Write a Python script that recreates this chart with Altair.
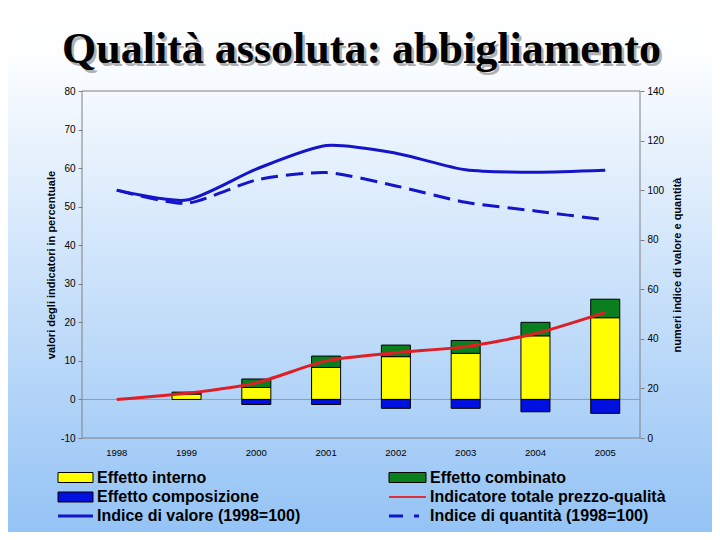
import altair as alt
import pandas as pd

# ---- data ----
years = ["1998", "1999", "2000", "2001", "2002", "2003", "2004", "2005"]
effetto_interno = [0, 1.4, 3.1, 8.3, 11.1, 11.95, 16.5, 21.2]
effetto_combinato = [0, 0.5, 2.2, 2.95, 3.0, 3.35, 3.5, 4.8]
effetto_composizione = [0, 0, -1.3, -1.3, -2.3, -2.3, -3.2, -3.6]
indicatore_totale = [0, 1.6, 4.3, 10.0, 12.1, 13.7, 17.1, 22.6]
indice_valore = [100, 96, 108.5, 118, 114.9, 108.2, 107.2, 108]
indice_quantita = [100, 94.7, 104.1, 107.1, 101.7, 95.1, 91.6, 88]

left_ticks = [-10, 0, 10, 20, 30, 40, 50, 60, 70, 80]
right_ticks = [0, 20, 40, 60, 80, 100, 120, 140]

title_text = "Qualità assoluta: abbigliamento"
left_title = "valori degli indicatori in percentuale"
right_title = "numeri indice di valore e quantità"

series_names = ["Effetto interno", "Effetto combinato", "Effetto composizione"]
series_colors = ["#ffff00", "#0a7f1e", "#0010e0"]
RED = "#e01e25"
BLUE = "#1414c8"
FONT = "Liberation Sans"

W, H = 558, 347

# ---- tables ----
rows = []
for i, y in enumerate(years):
    for k, (name, vals) in enumerate(zip(series_names,
                                         [effetto_interno, effetto_combinato, effetto_composizione])):
        if vals[i] != 0:
            rows.append({"year": y, "serie": name, "value": vals[i], "ord": k})
bars_df = pd.DataFrame(rows)
lines_df = pd.DataFrame({"year": years, "totale": indicatore_totale,
                         "valore": indice_valore, "quantita": indice_quantita})

x_enc = alt.X("year:O", sort=years,
              scale=alt.Scale(paddingInner=0.584, paddingOuter=0.29),
              axis=alt.Axis(title=None, labelAngle=0, ticks=False, domain=False,
                            labelPadding=9, labelFontSize=9.5, labelColor="black",
                            labelFont=FONT, zindex=2))

yl_scale = alt.Scale(domain=[-10, 80], nice=False, zero=False)
yl_axis = alt.Axis(orient="left", values=left_ticks, grid=False, domain=False,
                   tickSize=4, tickColor="#808080", labelPadding=3, labelFontSize=10,
                   labelFont=FONT, labelColor="black", labelExpr="'' + datum.value",
                   title=left_title,
                   titleFontSize=11, titleFont=FONT, titleFontWeight="bold",
                   titleColor="black", titlePadding=4, zindex=2)
yr_scale = alt.Scale(domain=[0, 140], nice=False)
yr_axis = alt.Axis(orient="right", values=right_ticks, grid=False, domain=False,
                   tickSize=4, tickColor="#808080", labelPadding=3, labelFontSize=10,
                   labelFont=FONT, labelColor="black", title=right_title,
                   titleFontSize=11, titleFont=FONT, titleFontWeight="bold",
                   titleColor="black", titlePadding=19, titleAngle=270, zindex=2)

one = pd.DataFrame({"a": [0]})

# background gradient
bg = alt.Chart(one).mark_rect(
    color=alt.Gradient(gradient="linear",
                       stops=[alt.GradientStop(color="#ffffff", offset=0),
                              alt.GradientStop(color="#fbfdff", offset=0.1),
                              alt.GradientStop(color="#94c3f5", offset=1)],
                       x1=0, x2=0, y1=0, y2=1)
).encode(x=alt.value(-74), x2=alt.value(630), y=alt.value(-83), y2=alt.value(441))

# plot-area frame
frame = alt.Chart(one).mark_rect(fill="white", fillOpacity=0, stroke="#808080",
                                 strokeWidth=1).encode(
    x=alt.value(0), x2=alt.value(W), y=alt.value(0), y2=alt.value(H))

zero = alt.Chart(pd.DataFrame({"z": [0]})).mark_rule(color="#9a9a9a", strokeWidth=1).encode(
    y=alt.Y("z:Q", scale=yl_scale, axis=yl_axis))

bars = alt.Chart(bars_df).mark_bar(stroke="black", strokeWidth=1).encode(
    x=x_enc,
    y=alt.Y("value:Q", scale=yl_scale, axis=yl_axis, stack="zero"),
    color=alt.Color("serie:N", scale=alt.Scale(domain=series_names, range=series_colors),
                    legend=None),
    order=alt.Order("ord:Q"),
)

red = alt.Chart(lines_df).mark_line(color=RED, strokeWidth=3, interpolate="cardinal",
                                    tension=0.3).encode(
    x=x_enc, y=alt.Y("totale:Q", scale=yl_scale, axis=yl_axis))

left_layer = alt.layer(zero, bars, red)

val = alt.Chart(lines_df).mark_line(color=BLUE, strokeWidth=3, interpolate="cardinal",
                                    tension=0.3).encode(
    x=x_enc, y=alt.Y("valore:Q", scale=yr_scale, axis=yr_axis))
qty = alt.Chart(lines_df).mark_line(color=BLUE, strokeWidth=3, interpolate="cardinal",
                                    tension=0.3, strokeDash=[17, 8]).encode(
    x=x_enc, y=alt.Y("quantita:Q", scale=yr_scale, axis=yr_axis))
right_layer = alt.layer(val, qty)

# ---- legend (manual) ----
leg_items = pd.DataFrame({
    "label": ["Effetto interno", "Effetto combinato", "Effetto composizione",
              "Indicatore totale prezzo-qualità", "Indice di valore (1998=100)",
              "Indice di quantità (1998=100)"],
    "col": [0, 1, 0, 1, 0, 1],
    "row": [0, 0, 1, 1, 2, 2],
})
col_sym_x = [-24, 307]
col_sym_x2 = [11, 344]
col_txt_x = [15, 348]
row_y = [386.5, 406, 425]
leg_items["tx"] = [col_txt_x[c] for c in leg_items["col"]]
leg_items["ty"] = [row_y[r] for r in leg_items["row"]]

leg_text = alt.Chart(leg_items).mark_text(
    align="left", baseline="middle", fontSize=16, fontWeight="bold", font=FONT, color="black"
).encode(x=alt.X("tx:Q", scale=None), y=alt.Y("ty:Q", scale=None), text="label:N")

rect_items = pd.DataFrame({
    "x": [col_sym_x[0], col_sym_x[1], col_sym_x[0]],
    "x2": [col_sym_x2[0], col_sym_x2[1], col_sym_x2[0]],
    "y": [row_y[0] - 5, row_y[0] - 5, row_y[1] - 5],
    "y2": [row_y[0] + 5, row_y[0] + 5, row_y[1] + 5],
    "fill": [series_colors[0], series_colors[1], series_colors[2]],
})
leg_rects = alt.Chart(rect_items).mark_rect(stroke="black", strokeWidth=1).encode(
    x=alt.X("x:Q", scale=None), x2="x2:Q", y=alt.Y("y:Q", scale=None), y2="y2:Q",
    color=alt.Color("fill:N", scale=None))

leg_red = alt.Chart(one).mark_rule(color="#e0303c", strokeWidth=2).encode(
    x=alt.value(col_sym_x[1]), x2=alt.value(col_sym_x2[1]), y=alt.value(row_y[1]))
leg_val = alt.Chart(one).mark_rule(color=BLUE, strokeWidth=3).encode(
    x=alt.value(col_sym_x[0]), x2=alt.value(col_sym_x2[0]), y=alt.value(row_y[2]))
leg_qty = alt.Chart(one).mark_rule(
    color=BLUE, strokeWidth=3, strokeDash=[14, 11, 5, 100]).encode(
    x=alt.value(col_sym_x[1]), x2=alt.value(col_sym_x2[1]), y=alt.value(row_y[2]))

# ---- title with shadow ----
tdf = pd.DataFrame({"t": [title_text]})
title_shadow = alt.Chart(tdf).mark_text(
    font="Liberation Serif", fontSize=44, fontWeight="bold", color="#b0b0b0",
    align="center", baseline="alphabetic").encode(
    text="t:N", x=alt.value(282), y=alt.value(-25.5))
title = alt.Chart(tdf).mark_text(
    font="Liberation Serif", fontSize=44, fontWeight="bold", color="black",
    align="center", baseline="alphabetic").encode(
    text="t:N", x=alt.value(279.5), y=alt.value(-28))

chart = alt.layer(
    bg, frame, left_layer, right_layer, leg_rects, leg_red, leg_val, leg_qty, leg_text,
    title_shadow, title
).resolve_scale(y="independent", color="independent").properties(
    width=W, height=H,
    autosize=alt.AutoSizeParams(type="none"),
    padding={"left": 74, "top": 83, "right": 72, "bottom": 94},
    background="white",
).configure_view(stroke=None, fill=None)

chart.save("out.html", embed_options={"renderer": "svg", "actions": False})
